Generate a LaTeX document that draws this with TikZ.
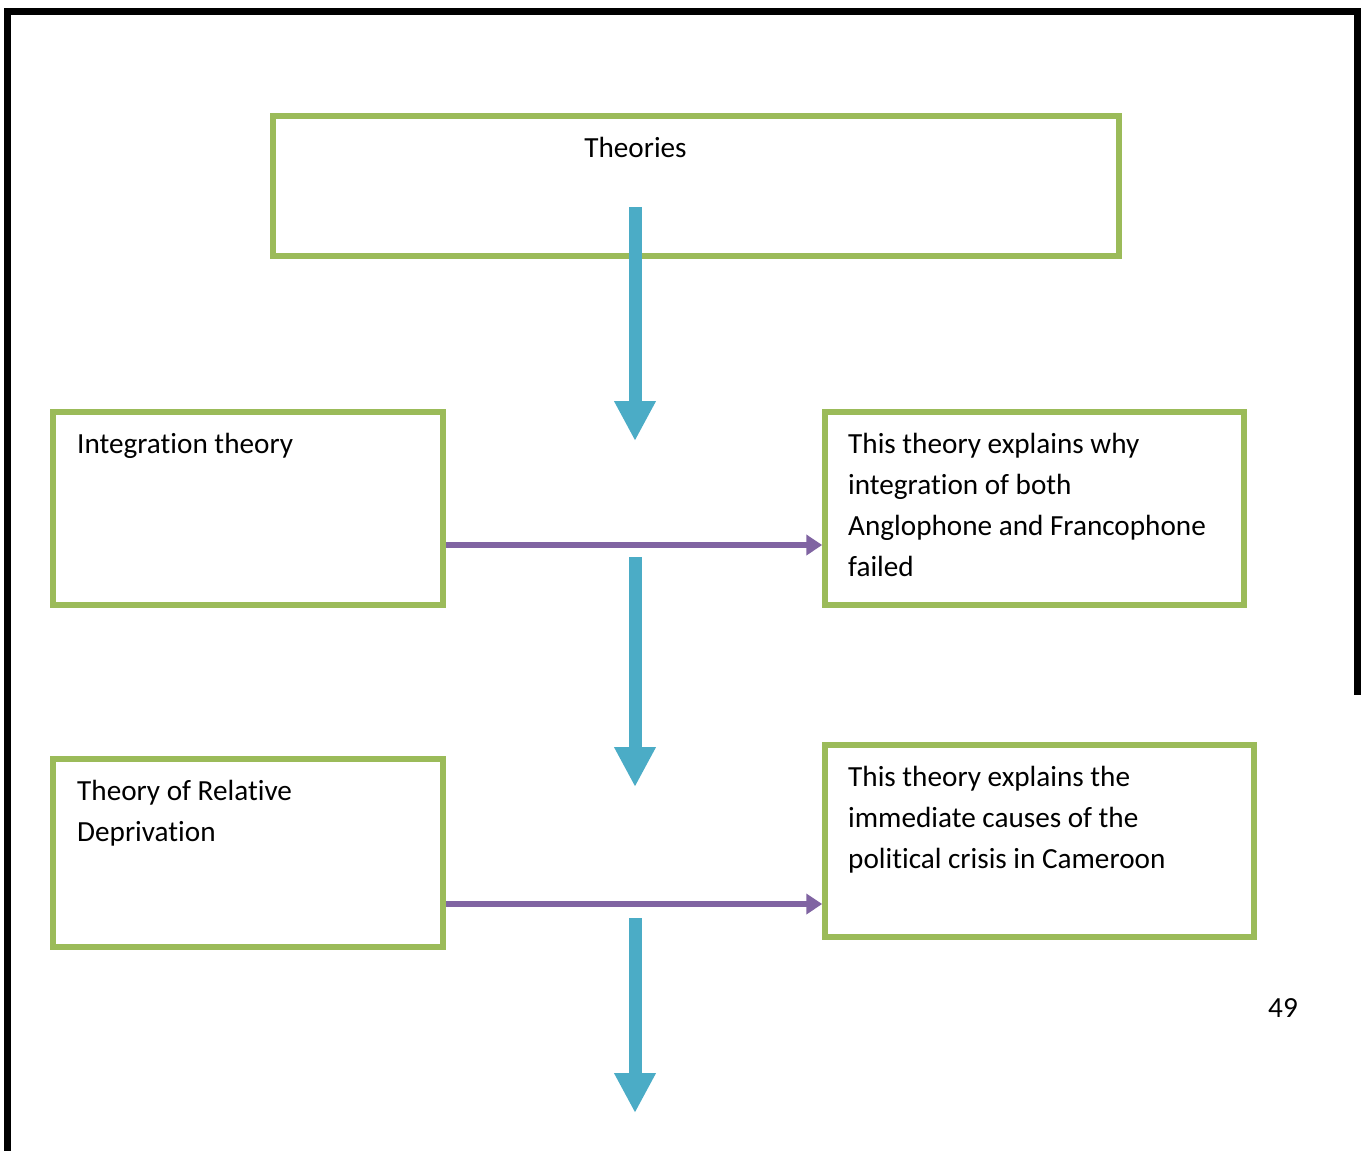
\documentclass[tikz,border=0pt]{standalone}
\usepackage{fontspec}
\setmainfont{Carlito}[Ligatures=NoCommon]
\usetikzlibrary{arrows.meta}
\definecolor{boxgreen}{HTML}{9BBB59}
\definecolor{flowblue}{HTML}{4BACC6}
\definecolor{linkpurple}{HTML}{8064A2}
\tikzset{
  theorybox/.style={draw=boxgreen, line width=5.5pt, rectangle, inner sep=0pt},
  boxtext/.style={inner sep=0pt, align=left, font=\fontsize{29.2}{41}\selectfont},
  flowarrow/.style={draw=flowblue, line width=13pt,
    -{Triangle[length=40pt, width=39pt]}},
  linkarrow/.style={draw=linkpurple, line width=6pt,
    -{Triangle[length=16pt, width=20pt]}},
}
\begin{document}
\begin{tikzpicture}[x=1pt, y=-1pt]
\useasboundingbox (0,0) rectangle (1363,1151);

% page frame
\draw[line width=6.5pt, line join=miter] (7.5,1151) -- (7.5,11.5) -- (1357.5,11.5) -- (1357.5,695);

% boxes
\node[theorybox, minimum width=846pt, minimum height=140pt] (theories) at (696,186) {};
\node[theorybox, minimum width=390pt, minimum height=193pt] (integ) at (248,508.5) {};
\node[theorybox, minimum width=419pt, minimum height=193pt] (expl1) at (1034.5,508.5) {};
\node[theorybox, minimum width=390pt, minimum height=188pt] (relat) at (248,853) {};
\node[theorybox, minimum width=429pt, minimum height=192pt] (expl2) at (1039.5,841) {};

% texts (multi-line nodes are anchored on the baseline of their last line)
\node[boxtext, anchor=base] (ttheories) at (635.5,157.5) {Theories};
\node[boxtext, anchor=base west] (tinteg) at (77,453) {Integration theory};
\node[boxtext, anchor=base west] (texpl1) at (848,576)
  {This theory explains why\\integration of both\\Anglophone and Francophone\\failed};
\node[boxtext, anchor=base west] (trelat) at (77,841) {Theory of Relative\\Deprivation};
\node[boxtext, anchor=base west] (texpl2) at (848,868)
  {This theory explains the\\immediate causes of the\\political crisis in Cameroon};
\node[boxtext, anchor=base west] (pagenum) at (1268,1017) {49};

% downward flow
\coordinate (f1s) at (635,207);
\coordinate (f1e) at (635,441);
\coordinate (f2s) at (635,557);
\coordinate (f2e) at (635,787);
\coordinate (f3s) at (635,918);
\coordinate (f3e) at (635,1113);
\draw[flowarrow] (f1s) -- (f1e);
\draw[flowarrow] (f2s) -- (f2e);
\draw[flowarrow] (f3s) -- (f3e);

% links from theory to explanation
\draw[linkarrow] ([yshift=-36.5pt]integ.east) -- ([yshift=-36.5pt]expl1.west);
\draw[linkarrow] ([yshift=-51pt]relat.east) -- ([yshift=-51pt]relat.east -| expl2.west);
\end{tikzpicture}
\end{document}
